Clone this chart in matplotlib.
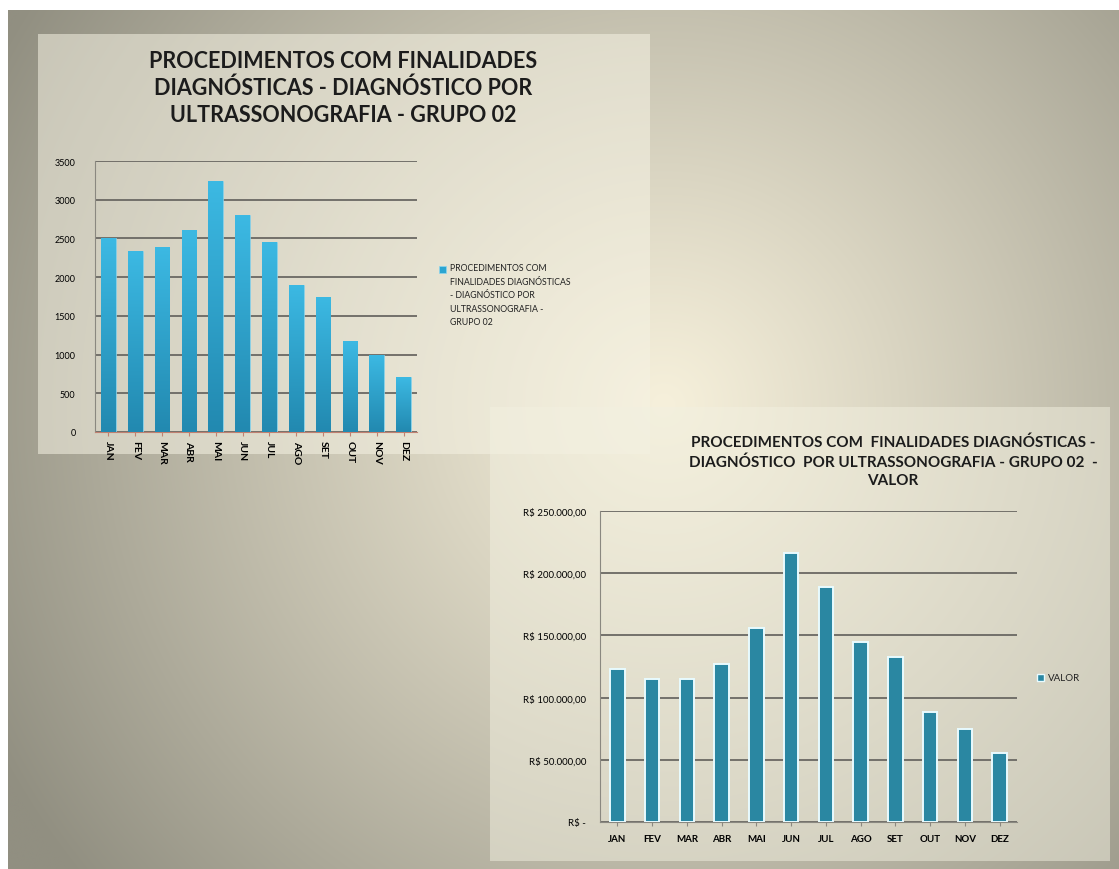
import numpy as np
import matplotlib
matplotlib.use("Agg")
import matplotlib.pyplot as plt
from matplotlib.patches import Rectangle
from matplotlib.ticker import FuncFormatter, MultipleLocator

# dados
meses = ["JAN", "FEV", "MAR", "ABR", "MAI", "JUN", "JUL", "AGO", "SET", "OUT", "NOV", "DEZ"]
quantidade = [2500, 2340, 2390, 2615, 3240, 2800, 2455, 1900, 1745, 1175, 1000, 710]
valor = [123300, 115200, 115200, 127300, 156200, 216500, 189200, 144700, 132900, 88700, 74500, 55700]

titulo1 = "PROCEDIMENTOS COM FINALIDADES\nDIAGNÓSTICAS - DIAGNÓSTICO POR\nULTRASSONOGRAFIA - GRUPO 02"
legenda1 = "PROCEDIMENTOS COM\nFINALIDADES DIAGNÓSTICAS\n- DIAGNÓSTICO POR\nULTRASSONOGRAFIA -\nGRUPO 02"
titulo2 = "PROCEDIMENTOS COM  FINALIDADES DIAGNÓSTICAS -\nDIAGNÓSTICO  POR ULTRASSONOGRAFIA - GRUPO 02  -\nVALOR"

W, H = 1119, 870
plt.rcParams["font.family"] = ["Lato", "DejaVu Sans"]

fig = plt.figure(figsize=(W / 100, H / 100), dpi=100)
fig.patch.set_facecolor("white")

# fundo do slide (gradiente radial, claro no meio)
bg = fig.add_axes([0, 0, 1, 1])
yy, xx = np.mgrid[0:H, 0:W]
d = np.sqrt((xx - 660) ** 2 + (yy - 400) ** 2) / 760.0
d = np.clip(d, 0, 1)
light = np.array([246, 240, 219]) / 255.0
dark = np.array([145, 143, 129]) / 255.0
t = d[..., None] ** 1.1
img = light[None, None, :] * (1 - t) + dark[None, None, :] * t
bg.imshow(img, extent=(8, W, H, 11), aspect="auto", zorder=0)
bg.set_xlim(0, W)
bg.set_ylim(H, 0)
bg.axis("off")

# painéis dos gráficos (semi-transparentes)
bg.add_patch(Rectangle((38, 35), 612, 420, facecolor=(0.96, 0.95, 0.89), alpha=0.55,
                       edgecolor="none", zorder=1))
bg.add_patch(Rectangle((490, 408), 620, 454, facecolor=(0.95, 0.94, 0.88), alpha=0.5,
                       edgecolor="none", zorder=1))

def px_axes(left, top, right, bottom):
    return fig.add_axes([left / W, 1 - bottom / H, (right - left) / W, (bottom - top) / H])

grid_cor = "#6a6863"

# gráfico 1 - quantidade
ax1 = px_axes(95, 162, 417, 433)
ax1.set_facecolor("none")
x = np.arange(len(meses))
barras1 = ax1.bar(x, quantidade, width=0.55, color="#2ba5d1", edgecolor="#8fd6ee",
                  linewidth=0.5, zorder=3)
grad = np.linspace(0, 1, 100)[:, None]
cmap1 = matplotlib.colors.LinearSegmentedColormap.from_list("b", ["#2289b0", "#3cb9e3"])
for b in barras1:
    im = ax1.imshow(grad, cmap=cmap1, origin="lower", aspect="auto", zorder=3.5,
                    extent=(b.get_x(), b.get_x() + b.get_width(), 0, b.get_height()))
    im.set_clip_path(b)
ax1.set_ylim(0, 3500)
ax1.set_xlim(-0.5, len(meses) - 0.5)
ax1.yaxis.set_major_locator(MultipleLocator(500))
ax1.grid(axis="y", color=grid_cor, linewidth=1.3, zorder=0)
ax1.set_xticks(x)
ax1.set_xticklabels(meses, rotation=270, fontsize=7.5, fontweight="bold")
ax1.tick_params(axis="y", labelsize=6.5, length=0, pad=14)
ax1.tick_params(axis="x", length=3, color="#c08070", pad=3)
for s in ["top", "right"]:
    ax1.spines[s].set_visible(False)
ax1.spines["left"].set_color("#8a8880")
ax1.spines["bottom"].set_color("#c08070")
fig.text(343 / W, 1 - 51 / H, titulo1, ha="center", va="top", fontsize=15.5,
         fontweight="bold", color="#1c1c1c", linespacing=1.33)
# legenda 1 (marcador alinhado à primeira linha)
bg.add_patch(Rectangle((439, 267), 7, 7, facecolor="#2ba5d1", edgecolor="#8fd6ee",
                       linewidth=0.5, zorder=2))
bg.text(450, 264, legenda1, ha="left", va="top", fontsize=6.3, color="#222222",
        linespacing=1.65, zorder=2)

# gráfico 2 - valor
ax2 = px_axes(600, 512, 1017, 823)
ax2.set_facecolor("none")
ax2.bar(x, valor, width=0.42, color="#2a87a2", edgecolor="#e8fbff", linewidth=1.4,
        zorder=3)
ax2.set_ylim(0, 250000)
ax2.set_xlim(-0.5, len(meses) - 0.5)
ax2.yaxis.set_major_locator(MultipleLocator(50000))

def reais(v, pos):
    if v == 0:
        return "R$ -"
    return "R$ " + f"{v:,.2f}".replace(",", "X").replace(".", ",").replace("X", ".")

ax2.yaxis.set_major_formatter(FuncFormatter(reais))
ax2.grid(axis="y", color=grid_cor, linewidth=1.3, zorder=0)
ax2.set_xticks(x)
ax2.set_xticklabels(meses, fontsize=7, fontweight="bold")
ax2.tick_params(axis="y", labelsize=7, length=0, pad=10)
ax2.tick_params(axis="x", length=3, color="#8a8880", pad=6)
for s in ["top", "right"]:
    ax2.spines[s].set_visible(False)
ax2.spines["left"].set_color("#8a8880")
ax2.spines["bottom"].set_color("#8a8880")
fig.text(893 / W, 1 - 436 / H, titulo2, ha="center", va="top", fontsize=11,
         fontweight="bold", color="#1c1c1c", linespacing=1.4)
bg.add_patch(Rectangle((1037, 675), 7, 7, facecolor="#2a87a2", edgecolor="#e8fbff",
                       linewidth=1.0, zorder=2))
bg.text(1048, 678.5, "VALOR", ha="left", va="center", fontsize=7, color="#222222", zorder=2)

fig.savefig("out.png", dpi=100)
